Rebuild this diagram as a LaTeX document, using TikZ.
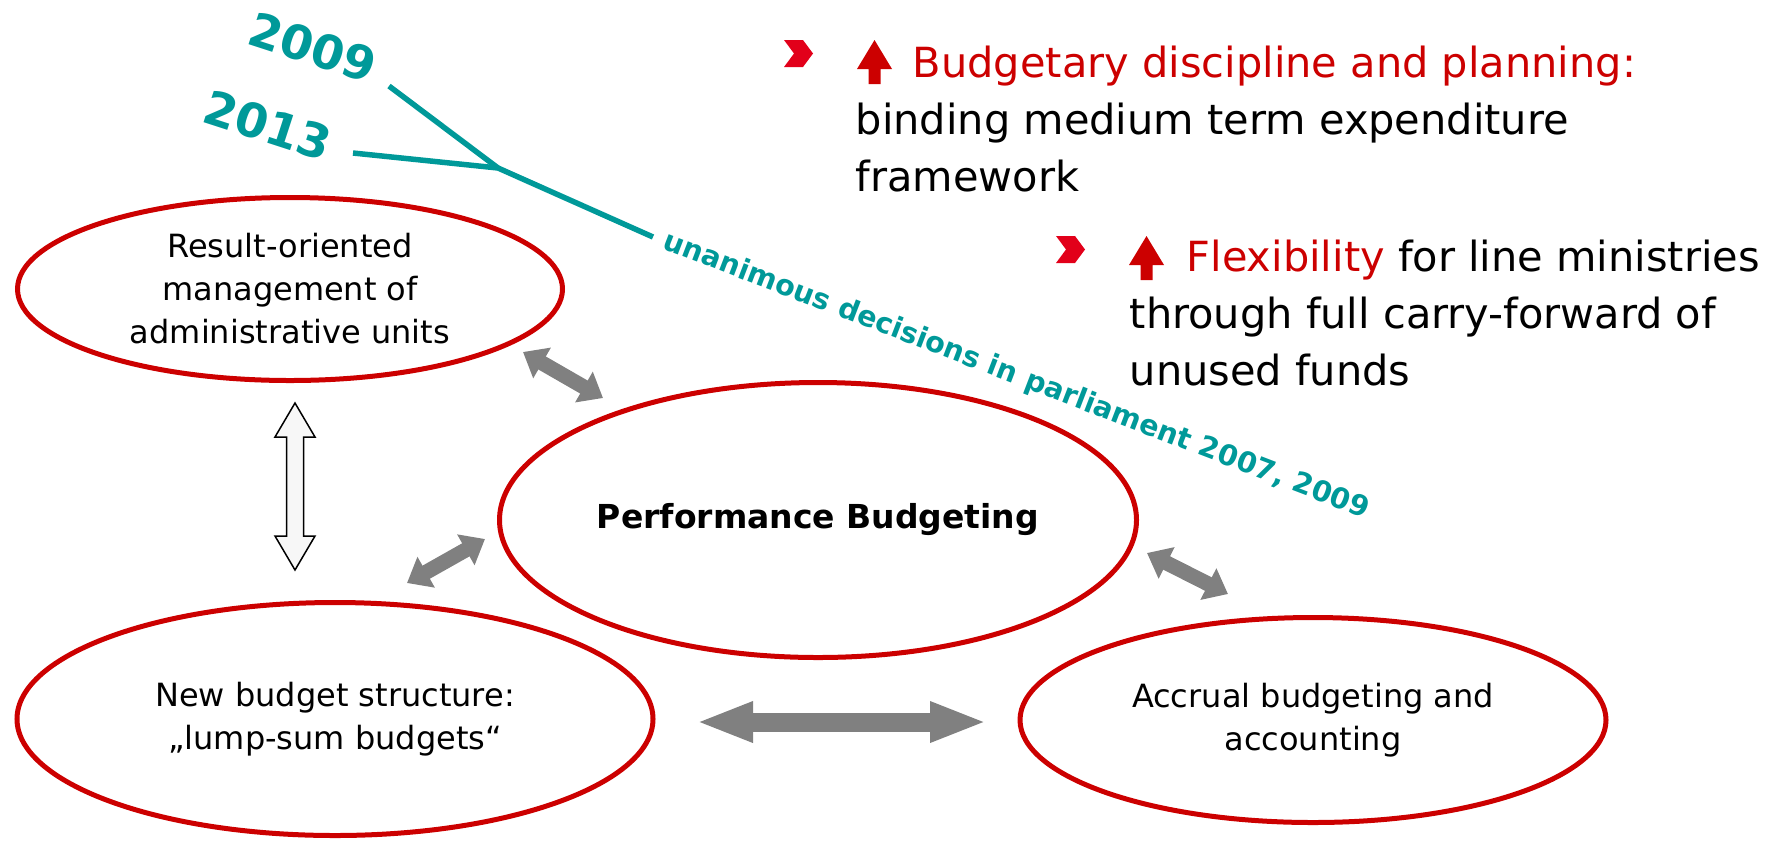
\documentclass[tikz,border=0pt]{standalone}
\usepackage{fontspec}
\setmainfont{DejaVu Sans}
\usetikzlibrary{shapes.geometric,arrows.meta}
\definecolor{pbred}{HTML}{CC0000}
\definecolor{pbchev}{HTML}{E2001A}
\definecolor{pbteal}{HTML}{009999}
\definecolor{pbgray}{HTML}{808080}
\definecolor{pbpale}{HTML}{F7F7F7}
\tikzset{every picture/.style={line width=0.75pt}}
\tikzset{
  goal/.style={ellipse, draw=pbred, line width=2.5pt, inner sep=0pt, align=center, font=\fontsize{16}{21.5}\selectfont},
  fatlink/.style={draw=pbgray, line width=7.5pt, {Triangle[length=11pt,width=17pt]}-{Triangle[length=11pt,width=17pt]}},
  widelink/.style={draw=pbgray, line width=9.5pt, {Triangle[length=28.5pt,width=18.5pt]}-{Triangle[length=28.5pt,width=18.5pt]}},
  yeartag/.style={text=pbteal, inner sep=0pt, rotate=-18, font=\bfseries\fontsize{23.5}{28}\selectfont},
  bullettext/.style={anchor=north west, inner sep=0pt, align=left, font=\fontsize{20.75}{28.5}\selectfont},
}
\begin{document}
\begin{tikzpicture}[x=0.5pt,y=0.5pt,yscale=-1,xscale=1]
\useasboundingbox (0,0) rectangle (1776,842);

% Ellipses
\node (res) [goal, minimum width=272.5pt, minimum height=91.5pt] at (290,289) {Result-oriented\\management of\\administrative units};
\node (perf) [goal, minimum width=318.5pt, minimum height=137.5pt, font=\bfseries\fontsize{16.5}{20}\selectfont] at (818,520) {Performance Budgeting};
\node (lump) [goal, minimum width=318pt, minimum height=116.5pt] at (335,719) {New budget structure:\\„lump-sum budgets“};
\node (accr) [goal, minimum width=293pt, minimum height=102.5pt] at (1313,720) {Accrual budgeting and\\accounting};

%Straight Lines
\coordinate (fork) at (498,168);
\coordinate (end09) at (389,86);
\coordinate (end13) at (353,153);
\coordinate (tail) at (653,237);
\draw [pbteal, line width=2.75pt] (end09) -- (fork);
\draw [pbteal, line width=2.75pt] (end13) -- (fork) -- (tail);

% Text Node
\node (y09) [yeartag] at (313,47) {2009};
\node (y13) [yeartag] at (268,125) {2013};
\node (vote) [text=pbteal, inner sep=0pt, rotate=-21, font=\bfseries\fontsize{14.3}{17}\selectfont] at (1016,376) {unanimous decisions in parliament 2007, 2009};

%Left Right Arrows
\coordinate (a1) at (523,352);
\coordinate (b1) at (603,398);
\coordinate (a2) at (407,583);
\coordinate (b2) at (485,539);
\coordinate (a3) at (1147,553);
\coordinate (b3) at (1228,594);
\coordinate (a4) at (696,722);
\coordinate (b4) at (987,722);
\draw [fatlink] (a1) -- (b1);
\draw [fatlink] (a2) -- (b2);
\draw [fatlink] (a3) -- (b3);
\draw [widelink] (a4) -- (b4);

%Up Down Arrow
\draw [fill=pbpale, line width=0.75pt] (295,403) -- (315,437) -- (303.5,437) -- (303.5,536) -- (315,536) -- (295,570) -- (275,536) -- (286.5,536) -- (286.5,437) -- (275,437) -- cycle;

%Chevrons
\fill [pbchev] (784,40) -- (803,40) -- (813,53.5) -- (803,67) -- (784,67) -- (794,53.5) -- cycle;
\fill [pbchev] (1056,236) -- (1075,236) -- (1085,249.5) -- (1075,263) -- (1056,263) -- (1066,249.5) -- cycle;

%Up Arrows
\fill [pbred] (874.5,40) -- (892,69) -- (880.5,69) -- (880.5,84) -- (868.5,84) -- (868.5,69) -- (857,69) -- cycle;
\fill [pbred] (1146.5,236) -- (1164,265) -- (1152.5,265) -- (1152.5,280) -- (1140.5,280) -- (1140.5,265) -- (1129,265) -- cycle;

% Text Node
\node (disc) [bullettext] at (855,45.5) {\hspace*{28.5pt}\textcolor{pbred}{Budgetary discipline and planning:}\\binding medium term expenditure\\framework};
\node (flex) [bullettext] at (1129,239.5) {\hspace*{28.5pt}\textcolor{pbred}{Flexibility} for line ministries\\through full carry-forward of\\unused funds};

\end{tikzpicture}
\end{document}
